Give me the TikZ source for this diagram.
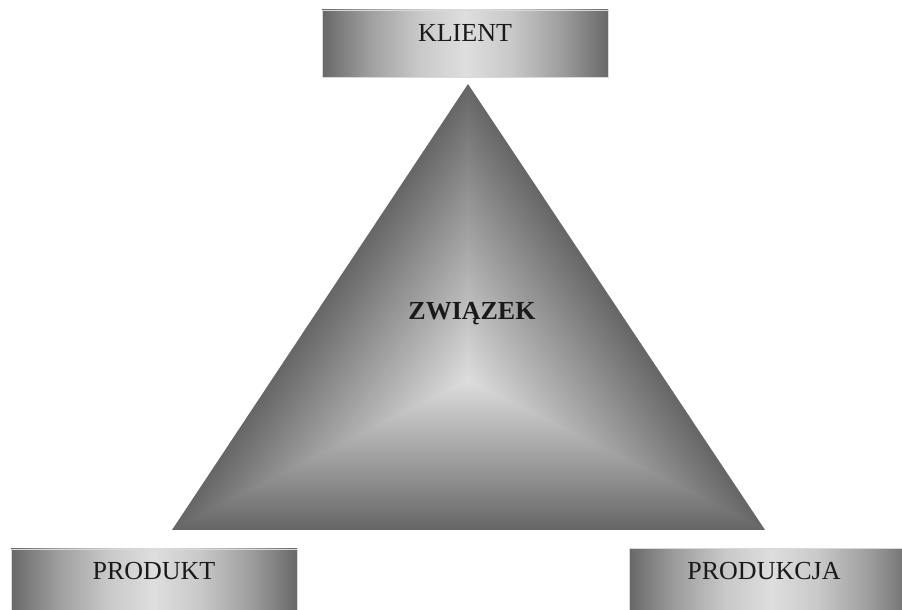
\documentclass[tikz,border=0pt]{standalone}
\usepackage{fontspec}
\setmainfont{Liberation Serif}
\usetikzlibrary{positioning,calc}
\definecolor{boxdark}{HTML}{686868}
\definecolor{boxlight}{HTML}{DEDEDE}
\definecolor{tridark}{HTML}{676767}
\definecolor{trilight}{HTML}{DCDCDC}
\definecolor{ink}{HTML}{1A1A1A}
\pgfdeclarehorizontalshading{boxshade}{100bp}{color(0bp)=(boxdark); color(25bp)=(boxdark); color(33bp)=(boxdark!55!boxlight); color(42bp)=(boxdark!18!boxlight); color(50bp)=(boxlight); color(58bp)=(boxdark!18!boxlight); color(67bp)=(boxdark!55!boxlight); color(75bp)=(boxdark); color(100bp)=(boxdark)}

\begin{document}
\begin{tikzpicture}[
  x=0.5pt,y=-0.5pt,
  gradbox/.style={minimum width=143pt,minimum height=33.5pt,inner sep=0pt,shading=boxshade,draw=white!85!black,thin},
  lbl/.style={font=\fontsize{13}{15}\selectfont,text=ink,anchor=base,inner sep=0pt}
]
\clip (0,0) rectangle (902,610);
\fill[white] (0,0) rectangle (902,610);
% triangle, dark at the edges and light in the middle
\coordinate (top) at (468,84);
\coordinate (bl) at (172,530);
\coordinate (br) at (765,530);
\coordinate (mid) at (468,381);
\foreach \i in {0,...,59}{
  \pgfmathsetmacro\s{1-\i/60}
  \pgfmathsetmacro\c{100-\i*100/59}
  \fill[tridark!\c!trilight] ($(mid)!\s!(top)$) -- ($(mid)!\s!(bl)$) -- ($(mid)!\s!(br)$) -- cycle;
}
\node[lbl,font=\fontsize{13}{15}\selectfont\bfseries] (zwiazek) at (472,320) {ZWIĄZEK};

\node[gradbox] (klient) at (465,43.5) {};
\node[gradbox] (produkt) at (154,582.5) {};
\node[gradbox] (produkcja) at (772,582) {};
\node[lbl] (klientlbl) at ([yshift=-16pt]klient.north) {KLIENT};
\node[lbl] (produktlbl) at ([yshift=-15.5pt]produkt.north) {PRODUKT};
\node[lbl] (produkcjalbl) at ([xshift=-4pt,yshift=-15.5pt]produkcja.north) {PRODUKCJA};
\end{tikzpicture}
\end{document}
